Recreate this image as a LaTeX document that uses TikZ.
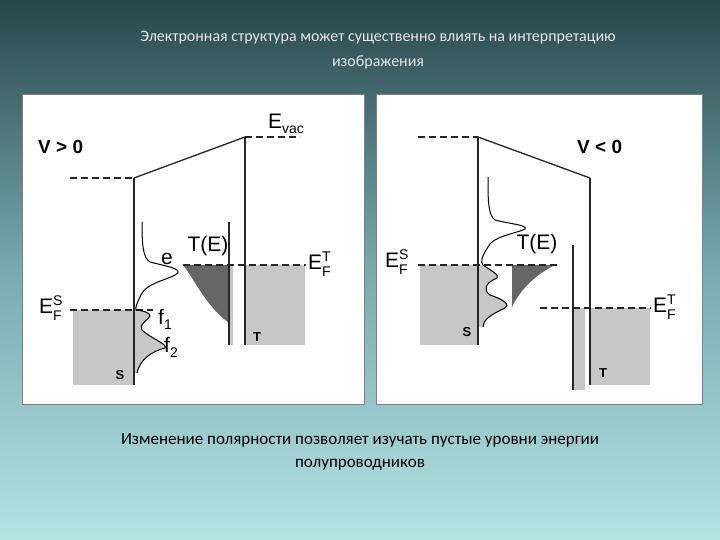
\documentclass[tikz,border=0pt]{standalone}
\usepackage{fontspec}
\setmainfont{Carlito}
\newfontfamily\arialf{Liberation Sans}
\newcommand{\myEF}[1]{E\makebox[0pt][l]{\raisebox{8pt}{\fontsize{14}{14}\selectfont #1}}\raisebox{-7pt}{\fontsize{14}{14}\selectfont F}}
\newcommand{\mysub}[2]{#1\raisebox{-5pt}{\fontsize{14}{14}\selectfont #2}}
\begin{document}
\begin{tikzpicture}[x=1pt,y=-1pt,
  ln/.style={line width=1.3pt,black!85},
  dsh/.style={line width=1.3pt,black!85,dash pattern=on 7pt off 4pt},
  sfill/.style={fill=black!22},
  tfill/.style={fill=black!60},
  lab/.style={font=\arialf\fontsize{21}{21}\selectfont,inner sep=0pt},
  blab/.style={font=\arialf\bfseries\fontsize{19}{19}\selectfont,inner sep=0pt},
  slab/.style={font=\arialf\bfseries\fontsize{13}{13}\selectfont,inner sep=0pt},
  ttl/.style={font=\fontsize{16}{16}\selectfont,text=black!10!white,inner sep=0pt},
  btl/.style={font=\fontsize{17}{17}\selectfont,text=black,inner sep=0pt}]
\useasboundingbox (0,0) rectangle (720,540);
\shade[top color={rgb,255:red,40;green,70;blue,76}, bottom color={rgb,255:red,182;green,226;blue,228}, middle color={rgb,255:red,120;green,170;blue,176}] (0,0) rectangle (720,540);
\node[ttl] (t1) at (378,38) {Электронная структура может существенно влиять на интерпретацию};
\node[ttl] (t2) at (378,62) {изображения};
\node[btl] (b1) at (360,440) {Изменение полярности позволяет изучать пустые уровни энергии};
\node[btl] (b2) at (360,465) {полупроводников};
% panels
\draw[fill=white,draw=black!50,line width=1pt] (22,95) rectangle (364,404);
\draw[fill=white,draw=black!50,line width=1pt] (376,95) rectangle (702,404);
% ---------- left panel
\fill[sfill] (73,310) rectangle (134,385);
\fill[sfill] (229,265) rectangle (233,345);
\fill[sfill] (245,265) rectangle (305,345);
\fill[sfill] (134,310) -- (136,310) .. controls (145,311) and (150,313) .. (150,316) .. controls (148,320) and (138,325) .. (142,330) .. controls (150,338) and (168,344) .. (165,348) .. controls (150,352) and (140,360) .. (137,373) -- (134,373) -- cycle;
\fill[tfill] (183,265) -- (229,265) -- (229,323) .. controls (205,305) and (195,280) .. (183,265) -- cycle;
\draw[dsh] (70,178) -- (134,178);
\draw[ln] (134,178) -- (134,385);
\draw[ln] (134,178) -- (245,137);
\draw[dsh] (245,137) -- (300,137);
\draw[ln] (245,137) -- (245,345);
\draw[ln] (229,222) -- (229,345);
\draw[dsh] (183,265) -- (306,265);
\draw[dsh] (70,310) -- (153,310);
\draw[line width=1pt] (142,222) .. controls (142,245) and (143,258) .. (150,262) .. controls (165,266) and (180,268) .. (178,273) .. controls (170,280) and (145,282) .. (140,297) .. controls (137,303) and (135,308) .. (136,310) .. controls (145,311) and (150,313) .. (150,316) .. controls (148,320) and (138,325) .. (142,330) .. controls (150,338) and (168,344) .. (165,348) .. controls (150,352) and (140,360) .. (137,373);
\node[blab,anchor=west] (v1) at (38,147) {V > 0};
\node[lab,anchor=west] (ev) at (268,124) {\mysub{E}{vac}};
\node[lab,anchor=west] (eft) at (308,264) {\myEF{T}};
\node[lab,anchor=west] (efs) at (39,308) {\myEF{S}};
\node[lab] (te) at (208,246) {T(E)};
\node[lab] (e) at (167,259) {e};
\node[lab] (f1) at (165,319) {\mysub{f}{1}};
\node[lab] (f2) at (171,347) {\mysub{f}{2}};
\node[slab] (s1) at (120,375) {S};
\node[slab] (tt1) at (257,337) {T};
% ---------- right panel
\fill[sfill] (420,265) rectangle (478,345);
\fill[sfill] (574,308) rectangle (585,390);
\fill[sfill] (590,308) rectangle (650,385);
\fill[sfill] (478,265) -- (483,265) .. controls (490,270) and (500,275) .. (497,278) .. controls (485,283) and (483,290) .. (490,295) .. controls (505,300) and (510,305) .. (505,308) .. controls (490,315) and (483,320) .. (483,327) -- (478,327) -- cycle;
\fill[tfill] (512,265) -- (555,265) .. controls (535,275) and (520,290) .. (512,307) -- cycle;
\draw[dsh] (418,137) -- (478,137);
\draw[ln] (478,137) -- (478,345);
\draw[ln] (478,137) -- (590,178);
\draw[ln] (590,178) -- (590,385);
\draw[ln] (573,245) -- (573,390);
\draw[dsh] (418,265) -- (558,265);
\draw[dsh] (540,308) -- (651,308);
\draw[line width=1pt] (488,177) .. controls (488,200) and (488,215) .. (495,220) .. controls (510,224) and (528,225) .. (525,229) .. controls (515,234) and (493,236) .. (488,247) .. controls (482,256) and (480,262) .. (483,265) .. controls (490,270) and (500,275) .. (497,278) .. controls (485,283) and (483,290) .. (490,295) .. controls (505,300) and (510,305) .. (505,308) .. controls (490,315) and (483,320) .. (483,327);
\node[blab,anchor=west] (v2) at (577,147) {V < 0};
\node[lab,anchor=west] (eft2) at (653,307) {\myEF{T}};
\node[lab,anchor=west] (efs2) at (385,262) {\myEF{S}};
\node[lab] (te2) at (537,244) {T(E)};
\node[slab] (s2) at (467,332) {S};
\node[slab] (tt2) at (603,373) {T};
\end{tikzpicture}
\end{document}
